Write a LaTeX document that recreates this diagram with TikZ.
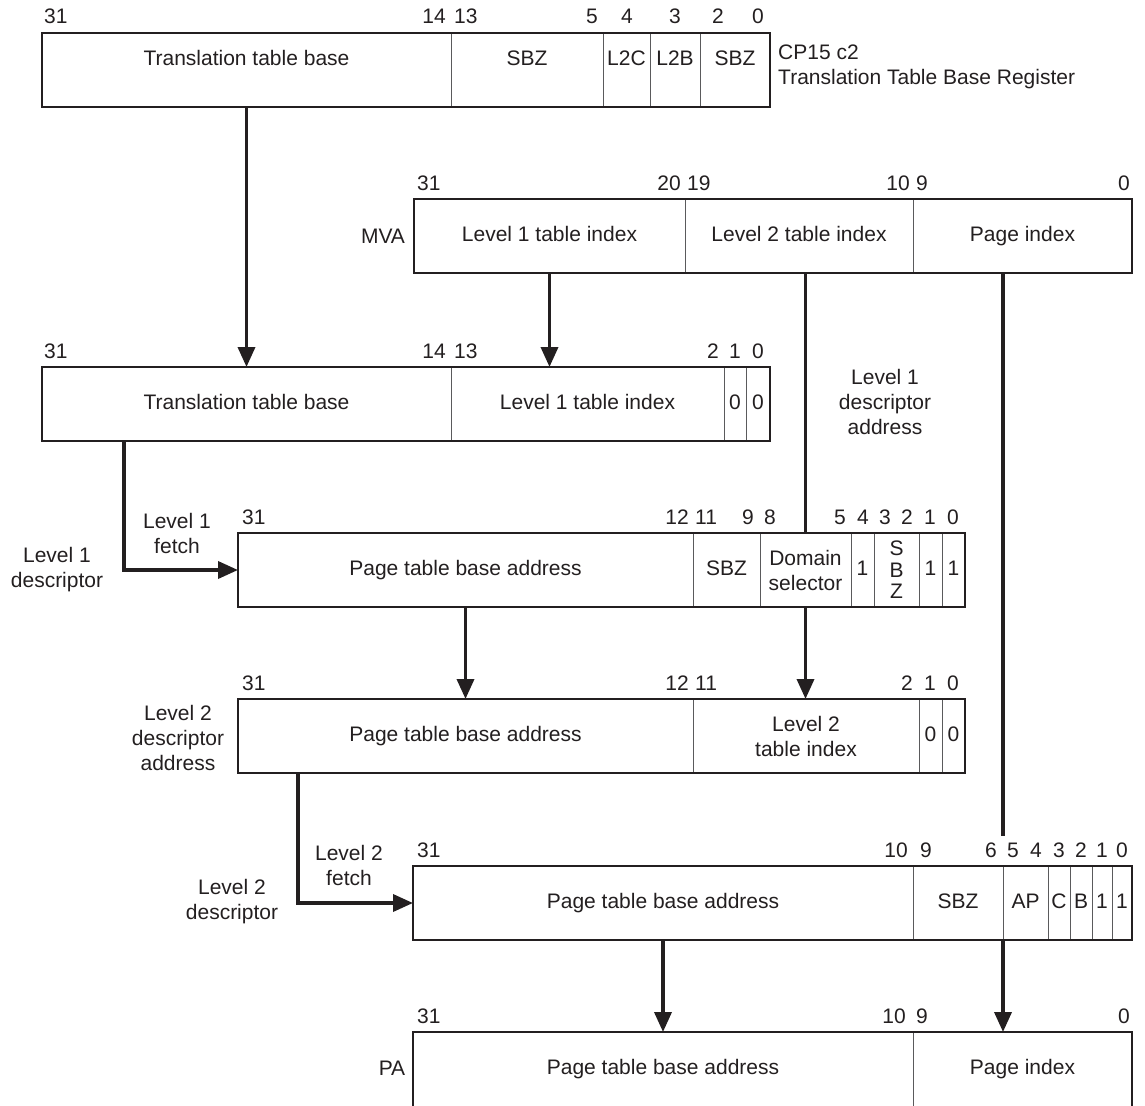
\documentclass[tikz,border=0pt]{standalone}
\usepackage{fontspec}
\setmainfont{Liberation Sans}
\usetikzlibrary{arrows.meta}
\pgfdeclarelayer{background}
\pgfsetlayers{background,main}
\definecolor{ink}{HTML}{231F20}
\definecolor{rule}{HTML}{5A5A5C}
\newcommand\lblfont{\fontsize{21pt}{25pt}\selectfont}
% keeps single-line field texts on one common baseline
\newcommand\cellstrut{\rule[-4.4pt]{0pt}{19.6pt}}
% same, with the text set higher in the field
\newcommand\highstrut{\rule[-24.4pt]{0pt}{39.6pt}}
% one field of a register: name, left x, right x, top y, text
\newcommand\fieldcell[5]{\node[cell,minimum width={#3pt-#2pt}] (#1) at (#2,#4) {\cellstrut#5};}
\newcommand\highcell[5]{\node[cell,minimum width={#3pt-#2pt}] (#1) at (#2,#4) {\highstrut#5};}
\tikzset{
  cell/.style={draw=rule, line width=1pt, fill=white, anchor=north west,
    inner sep=0pt, outer sep=0pt, minimum height=74pt, text=ink,
    font=\lblfont, align=center},
  outer/.style={draw=ink, line width=2.2pt},
  divider/.style={draw=rule, line width=1pt},
  bit/.style={font=\lblfont, text=ink, inner sep=0pt},
  side/.style={font=\lblfont, text=ink, inner sep=0pt, align=center},
  arr/.style={draw=ink, line width=3.6pt,
    -{Triangle[length=20pt,width=17pt]}},
  wire/.style={draw=ink, line width=3.6pt}
}
\begin{document}
\begin{tikzpicture}[x=1pt,y=-1pt]
\useasboundingbox (0,0) rectangle (1145,1105);
\clip (0,0) rectangle (1145,1105);

% ---- CP15 c2 translation table base register
\highcell{ttbr-tb}{42}{451}{33}{Translation table base}
\highcell{ttbr-sbz1}{451}{603}{33}{SBZ}
\highcell{ttbr-l2c}{603}{650}{33}{L2C}
\highcell{ttbr-l2b}{650}{700}{33}{L2B}
\highcell{ttbr-sbz0}{700}{770}{33}{SBZ}
\draw[outer] (ttbr-tb.north west) rectangle (ttbr-sbz0.south east);
\node[bit,anchor=base west] (ttbr-b31) at (44,24) {31};
\node[bit,anchor=base east] (ttbr-b14) at (446,24) {14};
\node[bit,anchor=base west] (ttbr-b13) at (454,24) {13};
\node[bit,anchor=base east] (ttbr-b5) at (598,24) {5};
\node[bit,anchor=base] (ttbr-b4) at (627,24) {4};
\node[bit,anchor=base] (ttbr-b3) at (675,24) {3};
\node[bit,anchor=base] (ttbr-b2) at (718,24) {2};
\node[bit,anchor=base] (ttbr-b0) at (758,24) {0};
\node[side,anchor=west,align=left] (ttbr-name) at (778,67)
  {CP15 c2\\Translation Table Base Register};

% ---- modified virtual address
\fieldcell{mva-i1}{414}{685}{199}{Level 1 table index}
\fieldcell{mva-i2}{685}{913}{199}{Level 2 table index}
\fieldcell{mva-pg}{913}{1132}{199}{Page index}
\draw[outer] (mva-i1.north west) rectangle (mva-pg.south east);
\node[bit,anchor=base west] (mva-b31) at (417,190) {31};
\node[bit,anchor=base east] (mva-b20) at (681,190) {20};
\node[bit,anchor=base west] (mva-b19) at (687,190) {19};
\node[bit,anchor=base east] (mva-b10) at (910,190) {10};
\node[bit,anchor=base west] (mva-b9) at (916,190) {9};
\node[bit,anchor=base east] (mva-b0) at (1130,190) {0};
\node[side] (mva-name) at (383,236) {MVA};

% ---- level 1 descriptor address
\fieldcell{l1a-tb}{42}{451}{367}{Translation table base}
\fieldcell{l1a-idx}{451}{724}{367}{Level 1 table index}
\fieldcell{l1a-z1}{724}{746}{367}{0}
\fieldcell{l1a-z0}{746}{770}{367}{0}
\draw[outer] (l1a-tb.north west) rectangle (l1a-z0.south east);
\node[bit,anchor=base west] (l1a-b31) at (44,358) {31};
\node[bit,anchor=base east] (l1a-b14) at (446,358) {14};
\node[bit,anchor=base west] (l1a-b13) at (454,358) {13};
\node[bit,anchor=base east] (l1a-b2) at (719,358) {2};
\node[bit,anchor=base] (l1a-b1) at (735,358) {1};
\node[bit,anchor=base] (l1a-b0) at (758,358) {0};
\node[side] (l1a-name) at (885,402) {Level 1\\descriptor\\address};

% ---- level 1 descriptor
\fieldcell{l1d-ptba}{238}{693}{533}{Page table base address}
\fieldcell{l1d-sbz}{693}{760}{533}{SBZ}
\node[cell,minimum width=91pt] (l1d-dom) at (760,533) {Domain\\selector};
\fieldcell{l1d-one4}{851}{874}{533}{1}
\node[cell,minimum width=45pt,font=\fontsize{21pt}{21.5pt}\selectfont]
  (l1d-sbz32) at (874,533) {S\\B\\Z};
\fieldcell{l1d-one1}{919}{942}{533}{1}
\fieldcell{l1d-one0}{942}{965}{533}{1}
\draw[outer] (l1d-ptba.north west) rectangle (l1d-one0.south east);
\node[bit,anchor=base west] (l1d-b31) at (242,524) {31};
\node[bit,anchor=base east] (l1d-b12) at (689,524) {12};
\node[bit,anchor=base west] (l1d-b11) at (695,524) {11};
\node[bit,anchor=base east] (l1d-b9) at (754,524) {9};
\node[bit,anchor=base west] (l1d-b8) at (764,524) {8};
\node[bit,anchor=base east] (l1d-b5) at (846,524) {5};
\node[bit,anchor=base] (l1d-b4) at (863,524) {4};
\node[bit,anchor=base] (l1d-b3) at (885,524) {3};
\node[bit,anchor=base] (l1d-b2) at (907,524) {2};
\node[bit,anchor=base] (l1d-b1) at (930,524) {1};
\node[bit,anchor=base] (l1d-b0) at (953,524) {0};
\node[side] (l1d-fetch) at (177,533) {Level 1\\fetch};
\node[side] (l1d-name) at (57,570) {Level 1\\descriptor};

% ---- level 2 descriptor address
\fieldcell{l2a-ptba}{238}{693}{699}{Page table base address}
\node[cell,minimum width=226pt] (l2a-idx) at (693,699) {Level 2\\table index};
\fieldcell{l2a-z1}{919}{942}{699}{0}
\fieldcell{l2a-z0}{942}{965}{699}{0}
\draw[outer] (l2a-ptba.north west) rectangle (l2a-z0.south east);
\node[bit,anchor=base west] (l2a-b31) at (242,690) {31};
\node[bit,anchor=base east] (l2a-b12) at (689,690) {12};
\node[bit,anchor=base west] (l2a-b11) at (695,690) {11};
\node[bit,anchor=base east] (l2a-b2) at (913,690) {2};
\node[bit,anchor=base] (l2a-b1) at (930,690) {1};
\node[bit,anchor=base] (l2a-b0) at (953,690) {0};
\node[side] (l2a-name) at (178,738) {Level 2\\descriptor\\address};

% ---- level 2 descriptor
\fieldcell{l2d-ptba}{413}{913}{866}{Page table base address}
\fieldcell{l2d-sbz}{913}{1003}{866}{SBZ}
\fieldcell{l2d-ap}{1003}{1048}{866}{AP}
\fieldcell{l2d-c}{1048}{1070}{866}{C}
\fieldcell{l2d-b}{1070}{1092}{866}{B}
\fieldcell{l2d-one1}{1092}{1112}{866}{1}
\fieldcell{l2d-one0}{1112}{1132}{866}{1}
\draw[outer] (l2d-ptba.north west) rectangle (l2d-one0.south east);
\node[bit,anchor=base west] (l2d-b31) at (417,857) {31};
\node[bit,anchor=base east] (l2d-b10) at (908,857) {10};
\node[bit,anchor=base west] (l2d-b9) at (920,857) {9};
\node[bit,anchor=base east] (l2d-b6) at (997,857) {6};
\node[bit,anchor=base] (l2d-b5) at (1013,857) {5};
\node[bit,anchor=base] (l2d-b4) at (1036,857) {4};
\node[bit,anchor=base] (l2d-b3) at (1059,857) {3};
\node[bit,anchor=base] (l2d-b2) at (1081,857) {2};
\node[bit,anchor=base] (l2d-b1) at (1102,857) {1};
\node[bit,anchor=base] (l2d-b0) at (1122,857) {0};
\node[side] (l2d-fetch) at (349,865) {Level 2\\fetch};
\node[side] (l2d-name) at (232,902) {Level 2\\descriptor};

% ---- physical address (runs off the lower edge)
\node[cell,draw=none,minimum width=500pt] (pa-ptba) at (413,1032) {\cellstrut Page table base address};
\node[cell,draw=none,minimum width=219pt] (pa-pg) at (913,1032) {\cellstrut Page index};
\draw[divider] (pa-pg.north west) -- ++(0,90);
\draw[outer] (pa-ptba.north west) ++(0,90) -- (pa-ptba.north west)
  -- (pa-pg.north east) -- ++(0,90);
\node[bit,anchor=base west] (pa-b31) at (417,1023) {31};
\node[bit,anchor=base east] (pa-b10) at (906,1023) {10};
\node[bit,anchor=base west] (pa-b9) at (916,1023) {9};
\node[bit,anchor=base east] (pa-b0) at (1130,1023) {0};
\node[side] (pa-name) at (392,1068) {PA};

% ---- connectors, kept under the registers
\coordinate (pgstop) at (l2d-ap.north west |- 0,836);
\begin{pgfonlayer}{background}
\draw[arr] (ttbr-tb.south) -- (l1a-tb.north);
\draw[arr] (mva-i1.south) -- (mva-i1.south |- l1a-idx.north);
\draw[arr] (mva-i2.south -| l1d-dom.north) -- (l2a-idx.north -| l1d-dom.north);
\draw[wire] (mva-pg.south -| pgstop) -- (pgstop);
\draw[arr] (l2d-ap.south west) -- (pa-pg.north -| l2d-ap.south west);
\draw[arr] ([xshift=82pt]l1a-tb.south west) |- (l1d-ptba.west);
\draw[arr] (l1d-ptba.south) -- (l2a-ptba.north);
\draw[arr] ([xshift=60pt]l2a-ptba.south west) |- (l2d-ptba.west);
\draw[arr] (l2d-ptba.south) -- (l2d-ptba.south |- pa-ptba.north);
\end{pgfonlayer}
\end{tikzpicture}
\end{document}
